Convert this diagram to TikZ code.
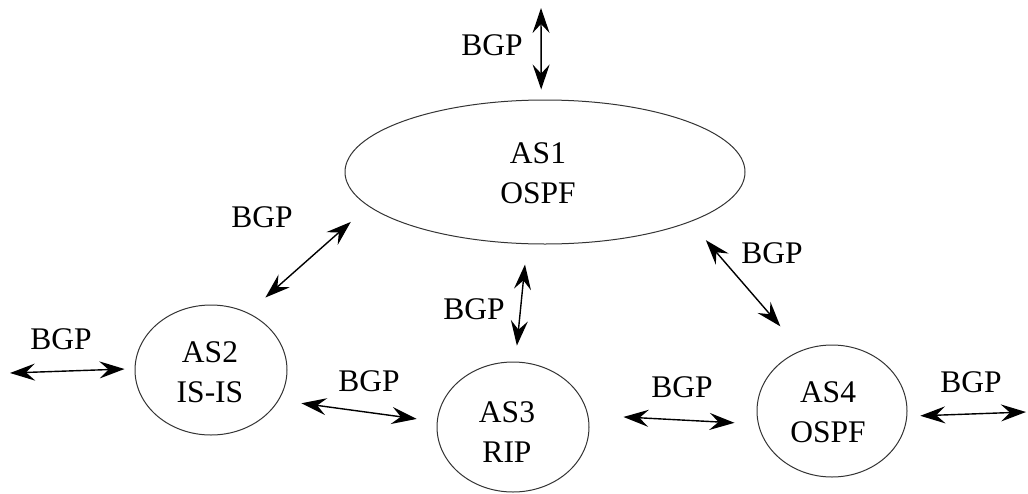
\documentclass[tikz,border=0pt]{standalone}
\usepackage{fontspec}
\setmainfont{Liberation Serif}
\usetikzlibrary{shapes.geometric,arrows.meta}
\begin{document}
\begin{tikzpicture}[x=1pt,y=-1pt,
  as/.style={ellipse,draw=black!80,line width=1pt,inner sep=0pt},
  astext/.style={align=center,inner sep=0pt,font=\fontsize{31.5}{40}\selectfont},
  bgp/.style={inner sep=0pt,font=\fontsize{31.5}{40}\selectfont},
  link/.style={<->,line width=1.4pt,>={Stealth[length=25pt,width=17pt,inset=9pt]}}]
\useasboundingbox (0,0) rectangle (1028,493);

% autonomous systems
\node[as,minimum width=400pt,minimum height=144pt] (as1) at (545,172) {};
\node[as,minimum width=152pt,minimum height=130pt] (as2) at (211,370) {};
\node[as,minimum width=152pt,minimum height=130pt] (as3) at (513,427) {};
\node[as,minimum width=150pt,minimum height=132pt] (as4) at (832,411) {};

\node[astext] (as1t) at (538,173) {AS1\\OSPF};
\node[astext] (as2t) at (210,372) {AS2\\IS-IS};
\node[astext] (as3t) at (507,432) {AS3\\RIP};
\node[astext] (as4t) at (828,412) {AS4\\OSPF};

% external peers
\coordinate (ext1) at (541,8);
\coordinate (ext2) at (10,373);
\coordinate (ext4) at (1026,412);

% BGP sessions
\draw[link] (ext1) -- (as1.93.2) [shorten >=10pt];
\draw[link,shorten <=23.5pt,shorten >=23pt] (as1.191.1) -- (as2.57.2);
\draw[link,shorten <=20.4pt,shorten >=16pt] (as1.256.1) -- (as3.88.9);
\draw[link,shorten <=24pt,shorten >=31.7pt] (as1.341) -- (as4.117.5);
\draw[link,shorten <=22.7pt,shorten >=20.3pt] (as2.336.3) -- (as3.176.9);
\draw[link,shorten <=35.3pt,shorten >=23.5pt] (as3.9.05) -- (as4.190.3);
\draw[link,shorten >=10pt] (ext2) -- (as2.179);
\draw[link,shorten <=13pt] (as4.356.7) -- (ext4);

% session labels
\node[bgp] (b1) at (492,45) {BGP};
\node[bgp] (b12) at (262,217) {BGP};
\node[bgp] (b13) at (474,309) {BGP};
\node[bgp] (b14) at (772,253) {BGP};
\node[bgp] (b2) at (61,339) {BGP};
\node[bgp] (b23) at (369,381) {BGP};
\node[bgp] (b34) at (682,387) {BGP};
\node[bgp] (b4) at (971,382) {BGP};
\end{tikzpicture}
\end{document}
